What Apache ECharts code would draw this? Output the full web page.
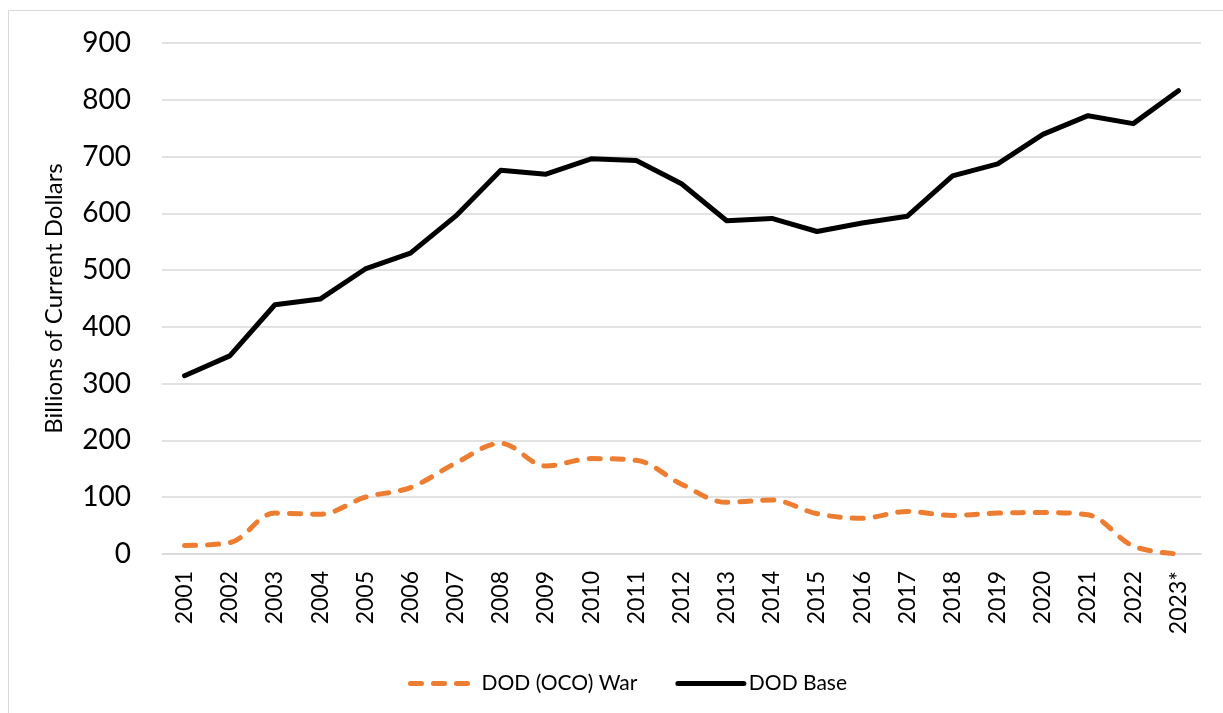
<!DOCTYPE html>
<html>
<head>
<meta charset="utf-8">
<script src="https://cdn.jsdelivr.net/npm/echarts@6/dist/echarts.min.js"></script>
<style>
  html, body { margin: 0; padding: 0; background: #fff; }
  #chart { width: 1223px; height: 713px; }
</style>
</head>
<body>
<div id="chart"></div>
<script>
// years on the x axis
var years = ['2001', '2002', '2003', '2004', '2005', '2006', '2007', '2008', '2009', '2010', '2011', '2012',
	'2013', '2014', '2015', '2016', '2017', '2018', '2019', '2020', '2021', '2022', '2023*'];
// DOD base budget, billions of current dollars
var baseValues = [314, 349, 439, 449, 502, 530, 595, 676, 669, 696, 693, 652,
	587, 591, 568, 583, 595, 666, 687, 739, 772, 758, 816];
// DOD war (OCO) funding
var warValues = [15, 20, 72, 70, 100, 117, 160, 195, 155, 168, 165, 123,
	91, 95, 71, 63, 75, 68, 72, 73, 69, 14, 0];
var yTicks = { min: 0, max: 900, step: 100 };

var font = 'Lato';
var myChart = echarts.init(document.getElementById('chart'));
var option = {
	animation: false,
	backgroundColor: '#fff',
	textStyle: { fontFamily: font },
	graphic: [{
		type: 'rect',
		shape: { x: 8.5, y: 10.5, width: 1400, height: 900 },
		style: { fill: 'none', stroke: '#d9d9d9', lineWidth: 1 },
		silent: true
	}],
	grid: { left: 162, right: 22, top: 43, bottom: 159 },
	legend: {
		left: 403,
		top: 668,
		itemWidth: 66,
		itemHeight: 5,
		itemGap: 38,
		itemStyle: { opacity: 0 },
		lineStyle: { width: 5, cap: 'round' },
		textStyle: { fontFamily: font, fontSize: 21, color: '#000' },
		data: ['DOD (OCO) War', 'DOD Base']
	},
	xAxis: {
		type: 'category',
		data: years,
		boundaryGap: true,
		axisLine: { lineStyle: { color: '#d9d9d9', width: 1.5 } },
		axisTick: { show: false },
		axisLabel: {
			rotate: 90,
			interval: 0,
			margin: 17,
			fontFamily: font,
			fontSize: 23,
			color: '#000'
		}
	},
	yAxis: {
		type: 'value',
		min: yTicks.min,
		max: yTicks.max,
		interval: yTicks.step,
		name: 'Billions of Current Dollars',
		nameLocation: 'middle',
		nameGap: 96,
		nameTextStyle: { fontFamily: font, fontSize: 24, color: '#000' },
		axisLine: { show: false },
		axisTick: { show: false },
		axisLabel: { margin: 31, fontFamily: font, fontSize: 28, color: '#000' },
		splitLine: { lineStyle: { color: '#d9d9d9', width: 1.5 } }
	},
	series: [{
		name: 'DOD (OCO) War',
		type: 'line',
		data: warValues,
		symbol: 'none',
		smooth: 0.35,
		itemStyle: { color: '#ed7d31' },
		lineStyle: { color: '#ed7d31', width: 5, type: [11, 12], cap: 'round', join: 'round' }
	}, {
		name: 'DOD Base',
		type: 'line',
		data: baseValues,
		symbol: 'none',
		itemStyle: { color: '#000' },
		lineStyle: { color: '#000', width: 5, cap: 'round', join: 'round' }
	}]
};
myChart.setOption(option);
</script>
</body>
</html>
